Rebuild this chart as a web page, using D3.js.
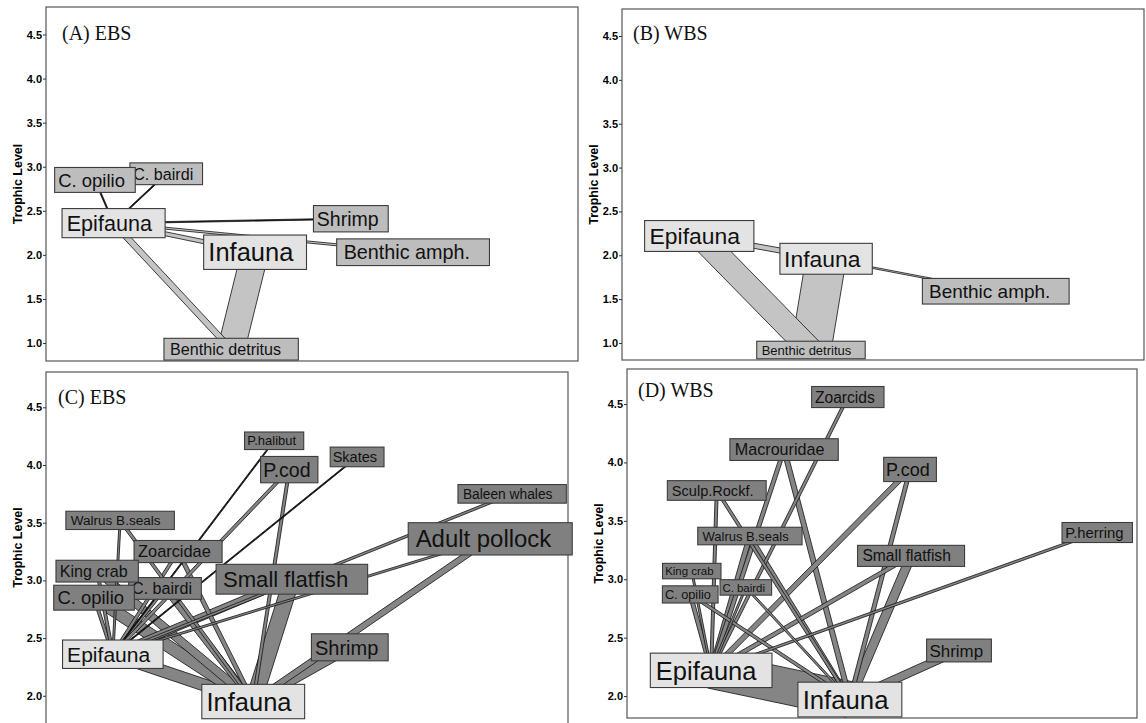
<!DOCTYPE html>
<html><head><meta charset="utf-8">
<script src="https://cdn.jsdelivr.net/npm/d3@7"></script>
<style>body{margin:0;background:#fff}svg{display:block}</style>
</head><body>
<svg id="chart" width="1146" height="723"></svg>
<script>
// ---------- data ----------
const panelTitles = ["(A) EBS", "(B) WBS", "(C) EBS", "(D) WBS"];
const tickValues = [1.0, 1.5, 2.0, 2.5, 3.0, 3.5, 4.0, 4.5];
const hubNodes = ["Epifauna", "Infauna"];

// Panel A (EBS, benthic)
const aNames = ["C. bairdi", "C. opilio", "Shrimp", "Benthic amph.", "Benthic detritus", "Epifauna", "Infauna"];
const aPos   = [22.6, 9.2, 57.3, 69.0, 34.8, 12.7, 39.3];
const aTL    = [2.92, 2.85, 2.41, 2.03, 0.93, 2.36, 2.03];
const aBio   = [6.2, 7.1, 7.5, 7.6, 6.2, 8.3, 9.8];
const aFrom  = ["Infauna", "Epifauna", "Epifauna", "Benthic amph.", "C. opilio", "C. bairdi", "Shrimp"];
const aTo    = ["Benthic detritus", "Benthic detritus", "Infauna", "Epifauna", "Epifauna", "Epifauna", "Epifauna"];
const aFlow  = [67.5, 15, 10, 5, 3, 3, 3];

// Panel B (WBS, benthic)
const bNames = ["Benthic amph.", "Benthic detritus", "Epifauna", "Infauna"];
const bPos   = [71.6, 36.2, 14.8, 39.1];
const bTL    = [1.59, 0.92, 2.22, 1.96];
const bBio   = [7.3, 5.0, 8.8, 8.8];
const bFrom  = ["Infauna", "Epifauna", "Epifauna", "Benthic amph."];
const bTo    = ["Benthic detritus", "Benthic detritus", "Infauna", "Infauna"];
const bFlow  = [100, 59, 12.5, 3.75];

// Panel C (EBS, consumers)
const cNames = ["P.halibut", "Skates", "P.cod", "Baleen whales", "Walrus B.seals", "Zoarcidae", "C. bairdi",
                "King crab", "C. opilio", "Adult pollock", "Small flatfish", "Shrimp", "Epifauna", "Infauna"];
const cPos   = [43.7, 59.6, 46.6, 89.3, 14.2, 25.3, 22.8, 9.8, 9.2, 85.1, 47.1, 58.2, 12.8, 39.7];
const cTL    = [4.21, 4.07, 3.96, 3.75, 3.52, 3.25, 2.93, 3.08, 2.85, 3.36, 3.01, 2.42, 2.36, 1.95];
const cBio   = [5.0, 5.6, 7.5, 5.3, 5.2, 6.3, 6.2, 6.2, 7.1, 9.2, 8.5, 7.7, 8.1, 9.8];
const cFrom  = ["Small flatfish", "Epifauna", "C. opilio", "Shrimp", "King crab", "Small flatfish", "C. bairdi",
                "Adult pollock", "Zoarcidae", "C. opilio", "King crab", "C. bairdi", "Zoarcidae", "Walrus B.seals",
                "P.cod", "P.cod", "Baleen whales", "Walrus B.seals", "Adult pollock", "P.halibut", "Skates"];
const cTo    = ["Infauna", "Infauna", "Infauna", "Infauna", "Infauna", "Epifauna", "Infauna",
                "Infauna", "Infauna", "Epifauna", "Epifauna", "Epifauna", "Epifauna", "Infauna",
                "Epifauna", "Infauna", "Epifauna", "Epifauna", "Epifauna", "Epifauna", "Epifauna"];
const cFlow  = [40, 30, 30, 25, 20, 17.5, 15, 15, 10, 7.5, 7.5, 7.5, 7.5, 7.5, 7.5, 7.5, 6, 5, 5, 3, 3];

// Panel D (WBS, consumers)
const dNames = ["Zoarcids", "Macrouridae", "Sculp.Rockf.", "P.cod", "P.herring", "Walrus B.seals", "Small flatfish",
                "King crab", "C. bairdi", "C. opilio", "Shrimp", "Epifauna", "Infauna"];
const dPos   = [43.3, 30.8, 17.6, 55.5, 92.2, 24.1, 55.7, 12.7, 23.3, 12.4, 65.1, 16.5, 43.7];
const dTL    = [4.56, 4.11, 3.76, 3.94, 3.40, 3.37, 3.20, 3.07, 2.93, 2.87, 2.39, 2.22, 1.97];
const dBio   = [6.0, 6.2, 5.6, 6.9, 5.7, 5.0, 6.0, 4.4, 4.4, 4.9, 6.5, 9.8, 9.9];
const dFrom  = ["Epifauna", "Small flatfish", "Shrimp", "Macrouridae", "Walrus B.seals", "P.cod", "Macrouridae",
                "Walrus B.seals", "P.cod", "Small flatfish", "C. opilio", "Zoarcids", "Sculp.Rockf.", "Sculp.Rockf.",
                "C. opilio", "P.herring", "King crab", "C. bairdi", "C. bairdi"];
const dTo    = ["Infauna", "Infauna", "Infauna", "Infauna", "Epifauna", "Epifauna", "Epifauna",
                "Infauna", "Infauna", "Epifauna", "Epifauna", "Epifauna", "Epifauna", "Infauna",
                "Infauna", "Epifauna", "Epifauna", "Epifauna", "Infauna"];
const dFlow  = [90, 22.5, 20, 12.5, 12.5, 12.5, 10, 10, 10, 10, 10, 7.5, 7.5, 7.5, 7.5, 6, 5, 5, 5];

// ---------- layout / style ----------
const panels = [
  {title: panelTitles[0], names: aNames, pos: aPos, tl: aTL, bio: aBio, from: aFrom, to: aTo, flow: aFlow,
   frame: {l: 46, t: 7, r: 578, b: 361}, dom: [0.796, 4.812], boxFill: "#bdbdbd", linkFill: "#c4c4c4", labelDx: 16, labelDy: 33},
  {title: panelTitles[1], names: bNames, pos: bPos, tl: bTL, bio: bBio, from: bFrom, to: bTo, flow: bFlow,
   frame: {l: 622, t: 9, r: 1144, b: 360}, dom: [0.806, 4.808], boxFill: "#bdbdbd", linkFill: "#c4c4c4", labelDx: 11, labelDy: 31},
  {title: panelTitles[2], names: cNames, pos: cPos, tl: cTL, bio: cBio, from: cFrom, to: cTo, flow: cFlow,
   frame: {l: 46, t: 372, r: 568, b: 735}, dom: [1.66, 4.806], boxFill: "#808080", linkFill: "#858585", labelDx: 12, labelDy: 32},
  {title: panelTitles[3], names: dNames, pos: dPos, tl: dTL, bio: dBio, from: dFrom, to: dTo, flow: dFlow,
   frame: {l: 627, t: 369, r: 1137, b: 718}, dom: [1.812, 4.80], boxFill: "#808080", linkFill: "#858585", labelDx: 11, labelDy: 28}
];

const svg = d3.select("#chart");
const fontScale = d3.scaleLinear().domain([0, 10]).range([0, 26]);
const widthScale = d3.scaleLinear().domain([0, 100]).range([0, 40]);
const SANS = "'Liberation Sans', Arial, sans-serif";

panels.forEach(p => {
  const f = p.frame;
  const x = d3.scaleLinear().domain([0, 100]).range([f.l, f.r]);
  const visBottom = Math.min(f.b, 723);
  const y = d3.scaleLinear().domain(p.dom).range([f.b, f.t]);
  const g = svg.append("g");

  // frame
  g.append("rect").attr("x", f.l).attr("y", f.t).attr("width", f.r - f.l).attr("height", f.b - f.t)
    .attr("fill", "#fff").attr("stroke", "#555").attr("stroke-width", 1.2);

  // axis
  const ax = g.append("g").attr("transform", `translate(${f.l},0)`)
    .call(d3.axisLeft(y).tickValues(tickValues.filter(v => v >= p.dom[0] && v <= p.dom[1]))
      .tickFormat(d3.format(".1f")).tickSize(3).tickPadding(1));
  ax.select(".domain").remove();
  ax.selectAll("line").attr("stroke", "#333");
  ax.selectAll("text").attr("font-family", SANS).attr("font-weight", "bold")
    .attr("font-size", "11px").attr("fill", "#000");

  g.append("text").attr("transform", `translate(${f.l - 24},${(f.t + visBottom) / 2}) rotate(-90)`)
    .attr("text-anchor", "middle").attr("font-family", SANS).attr("font-weight", "bold")
    .attr("font-size", "12.5px").attr("fill", "#000").text("Trophic Level");

  // panel title
  g.append("text").attr("x", f.l + p.labelDx).attr("y", f.t + p.labelDy)
    .attr("font-family", "'Liberation Serif', 'Times New Roman', serif").attr("font-size", "20px")
    .attr("fill", "#111").text(p.title);

  const nodes = p.names.map((n, i) => ({name: n, cx: x(p.pos[i]), cy: y(p.tl[i]), fs: fontScale(p.bio[i])}));
  const byName = new Map(nodes.map(d => [d.name, d]));

  // links as bands
  const links = p.from.map((s, i) => ({s: byName.get(s), t: byName.get(p.to[i]), w: widthScale(p.flow[i])}));
  g.append("g").selectAll("path").data(links).join("path")
    .attr("d", d => {
      const dx = d.t.cx - d.s.cx, dy = d.t.cy - d.s.cy, len = Math.hypot(dx, dy);
      const nx = -dy / len * d.w / 2, ny = dx / len * d.w / 2;
      return `M${d.s.cx + nx},${d.s.cy + ny}L${d.t.cx + nx},${d.t.cy + ny}L${d.t.cx - nx},${d.t.cy - ny}L${d.s.cx - nx},${d.s.cy - ny}Z`;
    })
    .attr("fill", d => d.w < 1.5 ? "#111" : p.linkFill)
    .attr("stroke", "#111").attr("stroke-width", 0.8).attr("stroke-linejoin", "miter");

  // node boxes
  const ng = g.append("g").selectAll("g").data(nodes).join("g");
  ng.each(function(d) {
    const sel = d3.select(this);
    const rect = sel.append("rect");
    const txt = sel.append("text").attr("font-family", SANS).attr("font-size", d.fs + "px")
      .attr("fill", "#111").text(d.name);
    const tw = txt.node().getComputedTextLength();
    const bw = tw * 1.21, bh = d.fs * 1.35;
    const left = d.cx - bw / 2;
    rect.attr("x", left).attr("y", d.cy - bh / 2).attr("width", bw).attr("height", bh)
      .attr("fill", hubNodes.includes(d.name) ? "#e3e3e3" : p.boxFill)
      .attr("stroke", "#3c3c3c").attr("stroke-width", 1.1);
    txt.attr("x", left + tw * 0.055).attr("y", d.cy + d.fs * 0.36);
  });
});
</script>
</body></html>
